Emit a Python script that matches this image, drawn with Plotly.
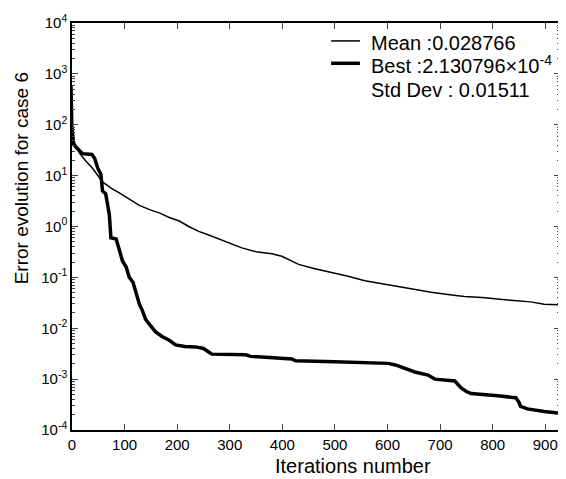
import plotly.graph_objects as go

# Data
best_iter = [0, 1, 3, 8, 14, 20, 38, 43, 49, 55, 58, 64, 71, 74, 84, 88, 96, 103, 109, 116, 122, 128, 134, 140,
             147, 159, 172, 185, 197, 215, 235, 250, 262, 266, 330, 340, 418, 425, 500, 557, 601, 615, 626, 640,
             652, 677, 685, 690, 728, 740, 750, 759, 810, 844, 850, 853, 866, 898, 930]
best_val = [90, 60, 42, 36, 32, 27, 26, 22, 14, 10.5, 5, 4.4, 1.7, 0.6, 0.57, 0.4, 0.21, 0.16, 0.1, 0.08, 0.05, 0.03,
            0.022, 0.015, 0.012, 0.0085, 0.0068, 0.0058, 0.0047, 0.0044, 0.0043, 0.0040, 0.0033, 0.0031, 0.0030,
            0.0028, 0.0025, 0.0023, 0.0022, 0.0021, 0.00204, 0.0019, 0.00174, 0.0015, 0.00138, 0.0012, 0.0011,
            0.0010, 0.00092, 0.00067, 0.00057, 0.00052, 0.00047, 0.00043, 0.00035, 0.00029, 0.00026, 0.00023,
            0.000213]

mean_iter = [0, 1, 2, 5, 14, 25, 39, 58, 75, 90, 110, 128, 150, 166, 185, 204, 222, 241, 260, 279, 300, 323, 350,
             380, 399, 431, 460, 494, 525, 557, 590, 620, 650, 683, 715, 746, 780, 810, 840, 872, 898, 930]
mean_val = [600, 120, 55, 42, 28, 20, 14, 7.5, 5.6, 4.6, 3.4, 2.6, 2.1, 1.85, 1.5, 1.28, 1.0, 0.8, 0.68, 0.57, 0.47,
            0.38, 0.32, 0.29, 0.26, 0.18, 0.15, 0.125, 0.105, 0.086, 0.075, 0.066, 0.058, 0.051, 0.046, 0.042,
            0.040, 0.038, 0.035, 0.033, 0.0295, 0.0288]

legend_labels = ["Mean :0.028766", "Best :2.130796×10<sup>-4</sup>", "Std Dev : 0.01511"]
legend_widths = [1.5, 3.5, None]

x_ticks = [0, 100, 200, 300, 400, 500, 600, 700, 800, 900]
y_exps = [-4, -3, -2, -1, 0, 1, 2, 3, 4]
y_tickvals = [10.0 ** e for e in y_exps]
y_ticktext = ["10<sup>%d</sup>" % e for e in y_exps]
y_minor = [k * 10.0 ** e for e in y_exps[:-1] for k in range(2, 10)]

FONT = "Liberation Sans, Arial, sans-serif"

fig = go.Figure()
fig.add_trace(go.Scatter(x=mean_iter, y=mean_val, mode="lines",
                         line=dict(color="black", width=1.5),
                         name=legend_labels[0], showlegend=False))
fig.add_trace(go.Scatter(x=best_iter, y=best_val, mode="lines",
                         line=dict(color="black", width=3.5),
                         name=legend_labels[1], showlegend=False))

# Legend drawn as annotations + short line samples (paper coordinates)
leg_text_y = [0.952, 0.897, 0.835]
leg_line_y = [0.956, 0.901]
for i, lab in enumerate(legend_labels):
    fig.add_annotation(xref="paper", yref="paper", x=0.609, y=leg_text_y[i], text=lab,
                       showarrow=False, xanchor="left", yanchor="middle",
                       font=dict(size=20, family=FONT, color="black"))
    if legend_widths[i]:
        fig.add_shape(type="line", xref="paper", yref="paper", x0=0.531, x1=0.59,
                      y0=leg_line_y[i], y1=leg_line_y[i],
                      line=dict(color="black", width=legend_widths[i]))

# Axis titles (offset from the axis centres as in the reference)
fig.add_annotation(xref="paper", yref="paper", x=0.575, y=-0.088, text="Iterations number",
                   showarrow=False, xanchor="center", yanchor="middle",
                   font=dict(size=20, family=FONT, color="black"))
fig.add_annotation(xref="paper", yref="paper", x=-0.104, y=0.619, text="Error evolution for case 6",
                   showarrow=False, xanchor="center", yanchor="middle", textangle=-90,
                   font=dict(size=19, family=FONT, color="black"))

# page body has an 8px margin: figure is 8px smaller, margins shifted accordingly
fig.update_layout(
    width=558, height=471,
    margin=dict(l=64, r=4, t=13, b=49),
    plot_bgcolor="white", paper_bgcolor="white",
    font=dict(family=FONT, color="black", size=15),
    showlegend=False,
)
fig.update_xaxes(
    range=[0, 928], tickvals=x_ticks, ticks="inside", ticklen=6, tickwidth=1,
    showline=True, linecolor="black", linewidth=1.5, mirror="allticks",
    showgrid=False, zeroline=False, tickfont=dict(size=15),
)
fig.update_yaxes(
    type="log", range=[-4, 4], tickvals=y_tickvals, ticktext=y_ticktext,
    ticks="inside", ticklen=6, tickwidth=1,
    minor=dict(tickmode="array", tickvals=y_minor, ticks="inside", ticklen=3, tickwidth=1, showgrid=False),
    showline=True, linecolor="black", linewidth=1.5, mirror="allticks",
    showgrid=False, zeroline=False, tickfont=dict(size=15),
)

fig.write_html("out.html")
